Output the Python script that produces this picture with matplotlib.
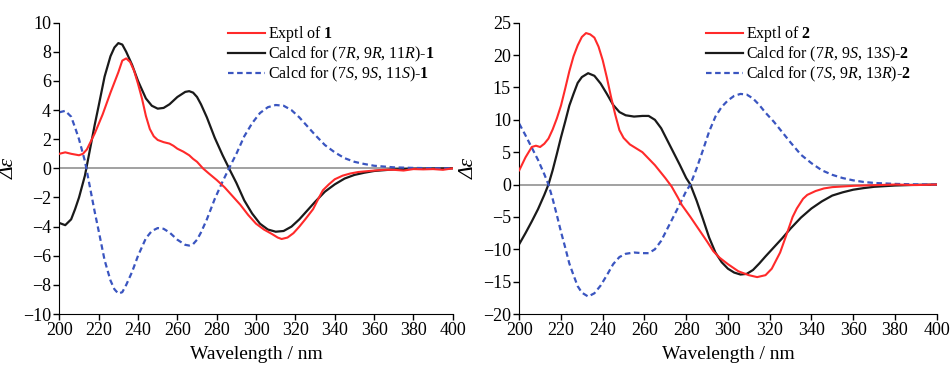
import matplotlib as mpl
mpl.use('Agg')
import matplotlib.pyplot as plt

# plot settings
mpl.rcParams['font.family'] = 'Liberation Serif'
mpl.rcParams['mathtext.fontset'] = 'custom'
mpl.rcParams['mathtext.rm'] = 'Liberation Serif'
mpl.rcParams['mathtext.it'] = 'Liberation Serif:italic'
mpl.rcParams['mathtext.bf'] = 'Liberation Serif:bold'
mpl.rcParams['xtick.labelsize'] = 13
mpl.rcParams['ytick.labelsize'] = 13
mpl.rcParams['axes.labelsize'] = 13

# compound 1
wl_exp1 = [200, 203, 206, 210, 212, 214, 218, 222, 226, 230, 232, 234, 236, 238, 240, 242, 244, 246, 248, 250,
           253, 256, 258, 260, 263, 266, 268, 270, 273, 276, 280, 284, 288, 292, 296, 300, 304, 308, 311, 313,
           316, 319, 322, 325, 329, 332, 334, 337, 340, 344, 348, 352, 356, 360, 365, 370, 375, 380, 385, 390,
           395, 400]
exp1 = [1.0, 1.1, 1.0, 0.9, 1.0, 1.3, 2.4, 3.7, 5.2, 6.6, 7.4, 7.55, 7.3, 6.7, 5.8, 4.8, 3.6, 2.7, 2.2, 1.95,
        1.8, 1.7, 1.55, 1.35, 1.15, 0.9, 0.65, 0.45, 0.0, -0.35, -0.8, -1.3, -1.9, -2.5, -3.2, -3.8, -4.2, -4.5, -4.75, -4.85,
        -4.75, -4.45, -4.0, -3.5, -2.8, -2.0, -1.5, -1.1, -0.75, -0.5, -0.35, -0.25, -0.2, -0.15, -0.1, -0.1, -0.15, -0.05, -0.07, -0.05,
        -0.1, 0.0]

wl_calc1 = [200, 203, 206, 208, 210, 213, 216, 218, 220, 223, 226, 228, 230, 232, 234, 237, 240, 244, 247, 250,
            253, 256, 260, 264, 266, 268, 270, 272, 275, 279, 283, 287, 290, 294, 298, 302, 306, 310, 314, 318,
            322, 326, 330, 335, 340, 345, 350, 355, 360, 370, 380, 390, 400]
calc1_RRR = [-3.75, -3.9, -3.5, -2.8, -2.0, -0.5, 1.6, 3.0, 4.3, 6.3, 7.7, 8.3, 8.6, 8.5, 8.0, 7.1, 6.0, 4.8, 4.3, 4.1,
             4.15, 4.4, 4.9, 5.25, 5.3, 5.2, 4.9, 4.4, 3.5, 2.1, 0.9, -0.2, -1.0, -2.2, -3.1, -3.8, -4.2, -4.35, -4.3, -4.0,
             -3.5, -2.9, -2.3, -1.6, -1.1, -0.7, -0.45, -0.3, -0.18, -0.07, -0.03, -0.01, 0.0]
calc1_SSS = [3.85, 3.95, 3.55, 2.8, 2.0, 0.5, -1.6, -3.0, -4.3, -6.3, -7.7, -8.3, -8.6, -8.5, -8.0, -7.1, -6.0, -4.8, -4.3, -4.1,
             -4.15, -4.4, -4.9, -5.25, -5.3, -5.2, -4.9, -4.4, -3.5, -2.1, -0.9, 0.2, 1.0, 2.2, 3.1, 3.8, 4.2, 4.35, 4.3, 4.0,
             3.5, 2.9, 2.3, 1.6, 1.1, 0.7, 0.45, 0.3, 0.18, 0.07, 0.03, 0.01, 0.0]

# compound 2
wl_exp2 = [200, 203, 206, 208, 210, 212, 214, 216, 218, 220, 222, 224, 226, 228, 230, 232, 234, 236, 238, 240,
           242, 244, 246, 248, 250, 253, 256, 259, 262, 265, 268, 270, 273, 276, 278, 282, 286, 290, 293, 296,
           300, 305, 310, 314, 318, 321, 325, 328, 331, 333, 336, 338, 342, 346, 350, 355, 360, 370, 380, 390,
           400]
exp2 = [2.2, 4.2, 5.8, 6.0, 5.8, 6.3, 7.1, 8.5, 10.2, 12.2, 14.8, 17.5, 19.8, 21.5, 22.8, 23.4, 23.2, 22.7, 21.3, 19.2,
        16.5, 13.5, 10.8, 8.4, 7.2, 6.2, 5.6, 5.0, 4.0, 3.0, 1.8, 1.0, -0.3, -2.0, -3.2, -5.0, -6.9, -8.8, -10.3, -11.3,
        -12.3, -13.4, -14.0, -14.3, -14.0, -13.0, -10.5, -7.8, -5.0, -3.7, -2.2, -1.6, -1.0, -0.6, -0.4, -0.3, -0.2, -0.1, 0.0, -0.08,
        0.0]

wl_calc2 = [200, 203, 206, 209, 212, 214, 216, 218, 220, 222, 224, 226, 228, 230, 233, 236, 239, 242, 245, 248,
            251, 255, 259, 262, 265, 268, 271, 274, 277, 280, 282, 285, 288, 291, 294, 297, 300, 303, 306, 309,
            312, 315, 318, 322, 326, 330, 335, 340, 345, 350, 355, 360, 365, 370, 380, 390, 400]
calc2_RSS = [-9.2, -7.5, -5.7, -3.8, -1.6, 0.0, 2.2, 4.7, 7.3, 9.7, 12.2, 14.0, 15.7, 16.6, 17.2, 16.8, 15.6, 14.0, 12.3, 11.2,
             10.7, 10.5, 10.6, 10.6, 10.0, 8.7, 6.8, 4.9, 3.0, 1.0, 0.0, -2.5, -5.3, -8.2, -10.5, -12.0, -13.0, -13.6, -13.9, -13.8,
             -13.2, -12.2, -11.1, -9.7, -8.3, -6.8, -5.1, -3.7, -2.6, -1.7, -1.2, -0.8, -0.55, -0.35, -0.15, -0.05, 0.0]
calc2_SRR = [9.4, 7.6, 5.7, 3.8, 1.6, 0.0, -2.2, -4.7, -7.3, -9.7, -12.2, -14.0, -15.7, -16.7, -17.3, -16.8, -15.6, -14.0, -12.3, -11.2,
             -10.7, -10.5, -10.6, -10.6, -10.0, -8.7, -6.8, -4.9, -3.0, -1.0, 0.0, 2.5, 5.3, 8.2, 10.5, 12.0, 13.0, 13.7, 14.0, 13.9,
             13.3, 12.3, 11.1, 9.7, 8.1, 6.5, 4.6, 3.3, 2.2, 1.5, 1.0, 0.65, 0.4, 0.25, 0.1, 0.03, 0.0]

xticks = list(range(200, 401, 20))

panels = [
    dict(pos=[0.0624, 0.1444, 0.4137, 0.7937], ylim=(-10, 10), yticks=range(-10, 11, 2),
         exp=(wl_exp1, exp1), calcA=(wl_calc1, calc1_RRR), calcB=(wl_calc1, calc1_SSS),
         labels=[r'Exptl of $\bf{1}$',
                 r'Calcd for (7$\it{R}$, 9$\it{R}$, 11$\it{R}$)-$\bf{1}$',
                 r'Calcd for (7$\it{S}$, 9$\it{S}$, 11$\it{S}$)-$\bf{1}$'],
         legx=0.429),
    dict(pos=[0.5460, 0.1444, 0.4389, 0.7937], ylim=(-20, 25), yticks=range(-20, 26, 5),
         exp=(wl_exp2, exp2), calcA=(wl_calc2, calc2_RSS), calcB=(wl_calc2, calc2_SRR),
         labels=[r'Exptl of $\bf{2}$',
                 r'Calcd for (7$\it{R}$, 9$\it{S}$, 13$\it{S}$)-$\bf{2}$',
                 r'Calcd for (7$\it{S}$, 9$\it{R}$, 13$\it{R}$)-$\bf{2}$'],
         legx=0.447),
]

fig = plt.figure(figsize=(9.51, 3.67), dpi=100)
for p in panels:
    ax = fig.add_axes(p['pos'])
    ax.axhline(0, color='#9a9a9a', lw=1.3, zorder=1)
    ax.plot(*p['exp'], color='#ff2a2a', lw=1.5, label=p['labels'][0], zorder=3)
    ax.plot(*p['calcA'], color='#1a1a1a', lw=1.6, label=p['labels'][1], zorder=2)
    ax.plot(*p['calcB'], color='#3a55c0', lw=1.6, linestyle=(0, (2.5, 1.6)), label=p['labels'][2], zorder=2)
    ax.set_xlim(200, 400)
    ax.set_ylim(*p['ylim'])
    ax.set_xticks(xticks)
    ax.set_yticks(list(p['yticks']))
    ax.spines['top'].set_visible(False)
    ax.spines['right'].set_visible(False)
    ax.tick_params(direction='out', length=4, width=1, pad=2)
    ax.set_xlabel('Wavelength / nm', fontsize=14, labelpad=5)
    ax.set_ylabel('Δε', fontstyle='italic', fontsize=15.5, labelpad=3)
    leg = ax.legend(loc='upper left', bbox_to_anchor=(p['legx'], 0.995), frameon=False,
                    fontsize=11.5, handlelength=2.3, handletextpad=0.2, labelspacing=0.05,
                    borderaxespad=0, borderpad=0)

plt.savefig('out.png', dpi=100)
